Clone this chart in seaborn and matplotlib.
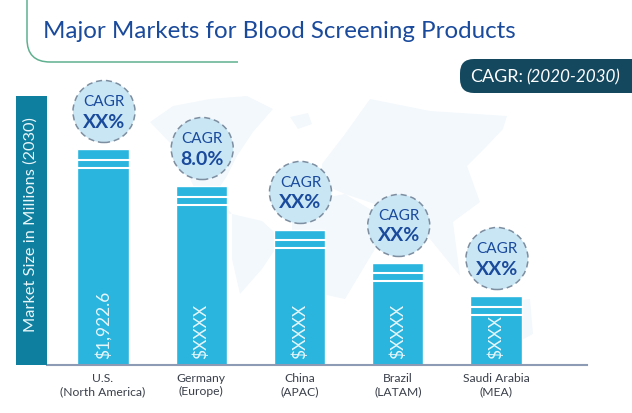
import matplotlib
matplotlib.use("Agg")
import matplotlib.pyplot as plt
from matplotlib.patches import Circle, FancyBboxPatch, PathPatch, Polygon, Rectangle
from matplotlib.path import Path
from matplotlib.transforms import IdentityTransform
import seaborn as sns

markets = ["U.S.\n(North America)", "Germany\n(Europe)", "China\n(APAC)", "Brazil\n(LATAM)", "Saudi Arabia\n(MEA)"]
market_size = [1922.6, 1593, 1202, 908, 614]
bar_labels = ["$1,922.6", "$XXXX", "$XXXX", "$XXXX", "$XXX"]
cagr_labels = ["XX%", "8.0%", "XX%", "XX%", "XX%"]

W, H = 632, 414
BLUE = "#29b5de"
NAVY = "#1a4a9c"
TEAL = "#0f7f9f"
DARK = "#14485f"
BUBBLE = "#c9e6f5"
MAP = "#f3f8fc"

sns.set_theme(style="white")
plt.rcParams["font.family"] = ["Lato", "DejaVu Sans"]

fig = plt.figure(figsize=(W / 100, H / 100), dpi=100)


def px(x, y):
    # picture pixels (top left origin) to display coords
    return x, H - y


# faint world map behind the bars
continents = [
    [(150, 123), (173, 107), (210, 100), (247, 97), (273, 110), (253, 133), (237, 157), (227, 177), (215, 195),
     (232, 215), (205, 210), (190, 180), (173, 147)],
    [(232, 215), (262, 222), (282, 240), (262, 270), (240, 295), (232, 260)],
    [(290, 118), (308, 114), (312, 125), (298, 130)],
    [(322, 165), (345, 135), (370, 100), (430, 112), (507, 117), (503, 130), (487, 147), (467, 167), (480, 203),
     (453, 223), (460, 277), (430, 240), (400, 215), (375, 205), (345, 195), (322, 185)],
    [(292, 205), (345, 195), (378, 215), (375, 250), (345, 300), (322, 295), (308, 250), (292, 235)],
    [(490, 305), (530, 300), (533, 335), (505, 350)],
]
for c in continents:
    fig.add_artist(Polygon([px(*p) for p in c], closed=True, fc=MAP, ec="none",
                           transform=IdentityTransform(), zorder=0))

# axes box runs from the baseline up, x limits put the bars where they belong
ax_left, ax_right, ax_top, ax_bottom = 47, 587, 98, 366
ax = fig.add_axes([ax_left / W, 1 - ax_bottom / H, (ax_right - ax_left) / W, (ax_bottom - ax_top) / H])
ax.patch.set_alpha(0)
sns.barplot(x=markets, y=market_size, color=BLUE, saturation=1, width=0.52, ax=ax, zorder=2)
ax.set_xlim((ax_left - 103) / 98.25, (ax_right - 103) / 98.25)
units_per_px = 1922.6 / 216
ax.set_ylim(0, (ax_bottom - ax_top) * units_per_px)
ax.set_ylabel("")
ax.set_yticks([])
sns.despine(ax=ax, left=True)
ax.spines["bottom"].set_color("#8d9bb5")
ax.spines["bottom"].set_linewidth(1.5)
ax.tick_params(axis="x", length=0, pad=5)
ax.set_xticks(range(len(markets)))
ax.set_xticklabels(markets, fontsize=8.7, color="#3a3f4a", linespacing=1.25)

for i, (val, lab, cagr) in enumerate(zip(market_size, bar_labels, cagr_labels)):
    # two white stripes near the top of each bar
    for off in (10.5, 18.5):
        y = val - off * units_per_px
        ax.plot([i - 0.26, i + 0.26], [y, y], color="white", lw=1.5, solid_capstyle="butt", zorder=3)
    ax.text(i, 7 * units_per_px, lab, rotation=90, ha="center", va="bottom", color="#e6f6fb",
            fontsize=12.5, zorder=4)
    # CAGR bubble
    cy = val + 37.5 * units_per_px
    ax.add_patch(Circle(ax.transData.transform((i + 0.01, cy)), 31, fc=BUBBLE, ec="#7d8ea0", lw=1.1,
                        ls=(0, (4, 2.5)), transform=IdentityTransform(), zorder=3, clip_on=False))
    ax.text(i + 0.01, cy + 10.5 * units_per_px, "CAGR", ha="center", va="center", color=NAVY, fontsize=11, zorder=5)
    ax.text(i + 0.01, cy - 9.5 * units_per_px, cagr, ha="center", va="center", color=NAVY, fontsize=14,
            fontweight="bold", zorder=5)

# y axis title band
fig.add_artist(Rectangle(px(16, 366), 31, 269, fc=TEAL, ec="none", transform=IdentityTransform()))
fig.text(31 / W, 1 - 225 / H, "Market Size in Millions (2030)", rotation=90, ha="center", va="center",
         color="#e8f6fa", fontsize=11.8)

# title and its green corner line
fig.text(43 / W, 1 - 31 / H, "Major Markets for Blood Screening Products", ha="left", va="center",
         color=NAVY, fontsize=17.4)
codes = [Path.MOVETO, Path.LINETO, Path.CURVE3, Path.CURVE3, Path.LINETO]
verts = [px(27, 0), px(27, 40), px(27, 63), px(50, 63), px(238, 63)]
fig.add_artist(PathPatch(Path(verts, codes), fc="none", ec="#5fb08f", lw=1.1, transform=IdentityTransform()))

# CAGR pill, runs off the right edge
fig.add_artist(FancyBboxPatch(px(460, 94), 220, 34, boxstyle="round,pad=0,rounding_size=14",
                              fc=DARK, ec="none", transform=IdentityTransform()))
fig.text(470 / W, 1 - 77 / H, "CAGR:", ha="left", va="center", color="white", fontsize=13)
fig.text(526 / W, 1 - 77 / H, "(2020-2030)", ha="left", va="center", color="white", fontsize=12.3, style="italic")

fig.savefig("out.png", dpi=100)
